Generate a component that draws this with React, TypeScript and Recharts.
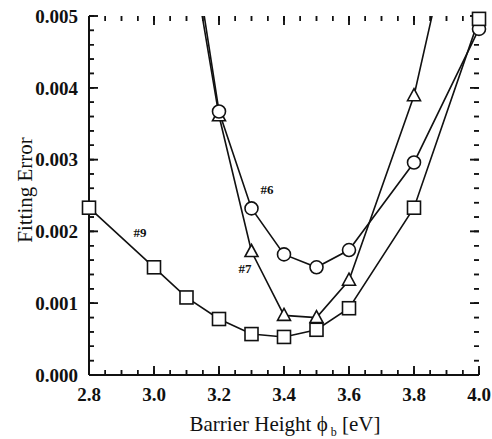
import {
  ComposedChart,
  Line,
  Scatter,
  XAxis,
  YAxis,
  ReferenceDot,
  ReferenceLine,
  Label,
} from "recharts";

// barrier height (eV) where the fits were done
const barrierHeight = [2.8, 3.0, 3.1, 3.2, 3.3, 3.4, 3.5, 3.6, 3.8, 4.0];

// fitting error per sample; null = not computed, > 0.005 runs off the top
const sample9 = [0.00233, 0.0015, 0.00108, 0.00078, 0.00057, 0.00053, 0.00063, 0.00093, 0.00233, 0.00496];
const sample6 = [null, null, 0.0066, 0.00367, 0.00232, 0.00168, 0.0015, 0.00174, 0.00296, 0.00482];
const sample7 = [null, null, 0.0063, 0.00361, 0.00172, 0.00083, 0.0008, 0.00132, 0.00389, 0.0079];

const xMajorTicks = [2.8, 3.0, 3.2, 3.4, 3.6, 3.8, 4.0];
const yMajorTicks = [0, 0.001, 0.002, 0.003, 0.004, 0.005];

// curve labels: [text, barrier height, error]
const curveNotes: [string, number, number][] = [
  ["#9", 2.957, 0.00199],
  ["#7", 3.28, 0.00149],
  ["#6", 3.348, 0.00258],
];

const X_DOMAIN: [number, number] = [2.8, 4.0];
const Y_DOMAIN: [number, number] = [0, 0.005];

// minor ticks: every 0.05 eV and every 0.0002
const xMinorTicks: number[] = [];
for (let i = 0; i <= 24; i++) xMinorTicks.push(Math.round((2.8 + i * 0.05) * 100) / 100);
const yMinorTicks: number[] = [];
for (let i = 0; i <= 25; i++) yMinorTicks.push((i * 2) / 10000);

const table = barrierHeight.map((x, i) => ({
  x,
  s9: sample9[i],
  s6: sample6[i],
  s7: sample7[i],
}));

// markers only for points inside the frame
const markers = (vals: (number | null)[]) =>
  barrierHeight
    .map((x, i) => ({ x, y: vals[i] }))
    .filter((d) => d.y !== null && d.y <= Y_DOMAIN[1]);

// inward tick marks sitting on the four sides of the frame
const onBottom = (xs: number[]) => xs.map((x) => ({ x, y: Y_DOMAIN[0] }));
const onTop = (xs: number[]) => xs.map((x) => ({ x, y: Y_DOMAIN[1] }));
const onLeft = (ys: number[]) => ys.map((y) => ({ x: X_DOMAIN[0], y }));
const onRight = (ys: number[]) => ys.map((y) => ({ x: X_DOMAIN[1], y }));

// tick lengths (px) turned into data units of the 390 x 359 plot box
const PX_X = (X_DOMAIN[1] - X_DOMAIN[0]) / 390;
const PX_Y = (Y_DOMAIN[1] - Y_DOMAIN[0]) / 359;

const FONT = '"Liberation Serif", "Times New Roman", serif';
const INK = "#111";
const frame = { stroke: INK, strokeWidth: 2 };
const tickText = { fontFamily: FONT, fontSize: 19, fontWeight: "bold", fill: INK };

const tickShape = (dx: number, dy: number) => (p: any) => (
  <path d={`M${p.cx},${p.cy}l${dx},${dy}`} stroke={INK} strokeWidth={1.5} fill="none" />
);

const squareMark = (p: any) => (
  <rect x={p.cx - 6.5} y={p.cy - 6.5} width={13} height={13} fill="#fff" stroke={INK} strokeWidth={1.6} />
);
const circleMark = (p: any) => (
  <circle cx={p.cx} cy={p.cy} r={6.5} fill="#fff" stroke={INK} strokeWidth={1.6} />
);
const triangleMark = (p: any) => (
  <path
    d={`M${p.cx},${p.cy - 7} L${p.cx + 6.5},${p.cy + 5} L${p.cx - 6.5},${p.cy + 5} Z`}
    fill="#fff"
    stroke={INK}
    strokeWidth={1.6}
  />
);

const tickSets: [{ x: number; y: number }[], number, number][] = [
  [onBottom(xMinorTicks), 0, -5],
  [onBottom(xMajorTicks), 0, -9],
  [onTop(xMinorTicks), 0, 5],
  [onTop(xMajorTicks), 0, 9],
  [onLeft(yMinorTicks), 5, 0],
  [onLeft(yMajorTicks), 9, 0],
  [onRight(yMinorTicks), -5, 0],
  [onRight(yMajorTicks), -9, 0],
];

// same tick marks as reference-line segments (data units)
const segments: { x: number; y: number }[][] = tickSets.map(([pts, dx, dy]) => pts)
  .flatMap((pts, i) => {
    const [, dx, dy] = tickSets[i];
    return pts.map((p) => [
      { x: p.x, y: p.y },
      { x: p.x + dx * PX_X, y: p.y - dy * PX_Y },
    ]);
  });

export default function App() {
  return (
    <div style={{ position: "absolute", left: 0, top: 0, background: "#fff" }}>
      <ComposedChart
        width={492}
        height={439}
        data={table}
        margin={{ top: 16, right: 13, bottom: 24, left: 29 }}
      >
        <XAxis
          xAxisId="b"
          dataKey="x"
          type="number"
          domain={X_DOMAIN}
          ticks={xMajorTicks}
          interval={0}
          tickSize={0}
          tickMargin={13}
          tickLine={false}
          tick={tickText}
          tickFormatter={(v: number) => v.toFixed(1)}
          height={40}
          axisLine={frame}
        >
          <Label
            content={({ viewBox }: any) => (
              <text x={viewBox.x + 196} y={viewBox.y + 56} textAnchor="middle" fontFamily={FONT} fontSize={21} fill={INK}>
                Barrier Height{"  "}ϕ
                <tspan fontSize={12} dy={5}> b</tspan>
                <tspan dy={-5}> [eV]</tspan>
              </text>
            )}
          />
        </XAxis>
        <XAxis xAxisId="t" orientation="top" dataKey="x" type="number" domain={X_DOMAIN}
          tick={false} tickLine={false} axisLine={frame} height={0} />

        <YAxis
          yAxisId="l"
          type="number"
          domain={Y_DOMAIN}
          allowDataOverflow
          ticks={yMajorTicks}
          interval={0}
          tickSize={0}
          tickMargin={11}
          tickLine={false}
          tick={tickText}
          tickFormatter={(v: number) => v.toFixed(3)}
          width={60}
          axisLine={frame}
        >
          <Label
            content={() => (
              <text
                x={25}
                y={190}
                transform="rotate(-90 25 190)"
                textAnchor="middle"
                dominantBaseline="central"
                fontFamily={FONT}
                fontSize={21}
                fill={INK}
              >
                Fitting Error
              </text>
            )}
          />
        </YAxis>
        <YAxis yAxisId="r" orientation="right" dataKey="y" type="number" domain={Y_DOMAIN}
          tick={false} tickLine={false} axisLine={frame} width={0} />

        {segments.map((seg, i) => (
          <ReferenceLine key={`seg-${i}`} xAxisId="b" yAxisId="l" segment={seg} stroke={INK} strokeWidth={1.5} ifOverflow="visible" />
        ))}

        {tickSets.map(([pts, dx, dy], i) => (
          <Scatter key={`tk-${i}`} xAxisId="t" yAxisId="r" data={pts} shape={tickShape(dx, dy)} isAnimationActive={false} />
        ))}

        <Line xAxisId="b" yAxisId="l" type="linear" dataKey="s9" stroke={INK} strokeWidth={1.6} dot={false} isAnimationActive={false} />
        <Line xAxisId="b" yAxisId="l" type="linear" dataKey="s6" stroke={INK} strokeWidth={1.6} dot={false} isAnimationActive={false} />
        <Line xAxisId="b" yAxisId="l" type="linear" dataKey="s7" stroke={INK} strokeWidth={1.6} dot={false} isAnimationActive={false} />

        <Scatter xAxisId="t" yAxisId="r" data={markers(sample7)} shape={triangleMark} isAnimationActive={false} />
        <Scatter xAxisId="t" yAxisId="r" data={markers(sample6)} shape={circleMark} isAnimationActive={false} />
        <Scatter xAxisId="t" yAxisId="r" data={markers(sample9)} shape={squareMark} isAnimationActive={false} />

        {curveNotes.map(([text, x, y]) => (
          <ReferenceDot
            key={text}
            xAxisId="b"
            yAxisId="l"
            x={x}
            y={y}
            r={0}
            shape={(p: any) => (
              <text x={p.cx} y={p.cy} dy="0.35em" textAnchor="middle" fontFamily={FONT} fontSize={13} fontWeight="bold" fill={INK}>
                {text}
              </text>
            )}
          />
        ))}
      </ComposedChart>
    </div>
  );
}
